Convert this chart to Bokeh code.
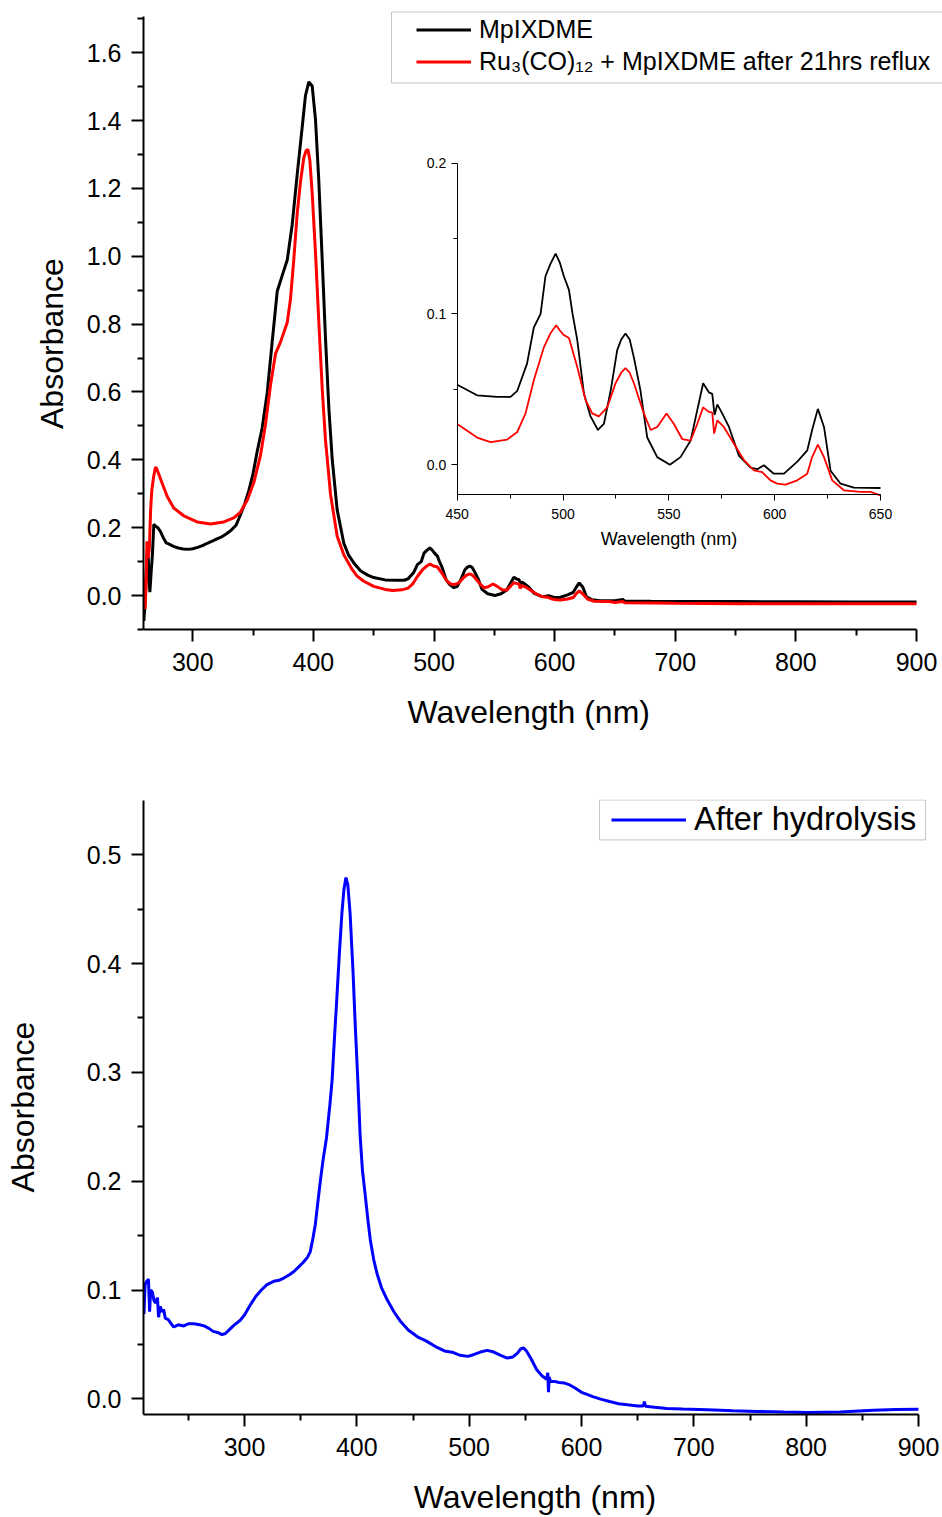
import numpy as np
from bokeh.plotting import figure
from bokeh.models import (Range1d, LinearAxis, FixedTicker, PrintfTickFormatter, Title,
                          Legend, LegendItem, BoxAnnotation, ColumnDataSource)
from bokeh.embed import file_html
from bokeh.resources import INLINE

FONT = "Liberation Sans"

# ---------------- data ----------------
mp_wl = [259.4, 260.5, 261.6, 262.7, 263.5, 264.4, 265.5, 266.5, 267.7, 269, 271, 273, 276, 278, 280,
         284, 288, 292, 296, 300, 304, 308, 312, 316, 320, 324, 328, 332, 336, 339.5, 343, 346.5, 350,
         353.4, 357.5, 361.7, 365.8, 370, 374.1, 378.3, 382.4, 386.6, 390.7, 393.4, 396.2, 399, 401.7,
         404.5, 407.3, 410, 412.8, 415.6, 419.7, 425.2, 429, 433.5, 439, 445,
         450, 459.4, 468.9, 475.2, 478.4, 483, 486.2, 489.4, 491.7, 494, 496.5, 498.5, 500.4, 502.8,
         504.5, 506.7, 509.9, 513, 516.5, 519.3, 522.5, 525.6, 527.5, 529.5, 531.5, 533.5, 536.6, 539.8,
         544.5, 550.5, 555.5, 560.3, 563.4, 566.2, 568.9, 570.5, 571.6, 572.9, 575.2, 578.4, 583.1,
         588.6, 591.8, 594.9, 599.6, 604.4, 610.7, 615.4, 617.7, 620.4, 623.3, 626.4, 631.1, 637.4,
         650, 656.5, 658, 680, 700, 750, 800, 850, 900]
mp_abs = [-0.075, -0.02, 0.09, 0.155, 0.06, 0.01, 0.07, 0.12, 0.21, 0.205, 0.2, 0.19, 0.167, 0.155, 0.152,
          0.145, 0.14, 0.137, 0.136, 0.138, 0.142, 0.147, 0.154, 0.16, 0.167, 0.173, 0.182, 0.193, 0.208,
          0.238, 0.27, 0.31, 0.36, 0.425, 0.494, 0.598, 0.747, 0.897, 0.943, 0.989, 1.093, 1.243, 1.381,
          1.474, 1.514, 1.502, 1.404, 1.22, 0.989, 0.759, 0.552, 0.401, 0.252, 0.154, 0.12, 0.096, 0.073,
          0.06,
          0.053, 0.046, 0.045, 0.045, 0.049, 0.067, 0.091, 0.100, 0.125, 0.133, 0.140, 0.134, 0.125,
          0.116, 0.1, 0.083, 0.047, 0.032, 0.023, 0.027, 0.049, 0.076, 0.083, 0.087, 0.083, 0.071, 0.049,
          0.018, 0.005, 0.0, 0.005, 0.016, 0.036, 0.054, 0.048, 0.047, 0.033, 0.040, 0.034, 0.025, 0.006,
          -0.002, -0.003, -0.0004, -0.006, -0.006, 0.002, 0.0095, 0.023, 0.037, 0.025, -0.004, -0.0126,
          -0.0153, -0.0155, -0.012, -0.016, -0.017, -0.0175, -0.018, -0.0185, -0.019, -0.019]

ru_wl = [259.4, 260.3, 261.2, 262, 263, 264, 265, 266, 267.5, 269.1, 270.5, 273.2, 278.8, 284.2, 292.5,
         303.6, 314.7, 325.7, 334, 339.5, 345.1, 350.6, 356.1, 360.3, 364.4, 368.6, 372.7, 378.3, 381,
         383.7, 386.6, 389.3, 392, 394, 395.5, 397, 399, 401.7, 404.5, 407.3, 410, 414.2, 419.7, 425.2,
         432.1, 436, 441.8,
         450, 459.4, 465.8, 473.6, 478.4, 482.3, 486.2, 491, 494, 496.8, 498.5, 500.4, 502.8, 506.7,
         510.6, 513.8, 516.9, 520.9, 524.8, 527.5, 529.5, 531.5, 533.5, 538.2, 541.4, 544.5, 548.9,
         552.4, 556.3, 560.3, 563.4, 566.2, 568.9, 570.5, 571.4, 572.9, 576, 580.7, 585.5, 590.2, 594.1,
         598, 601.2, 605.1, 610.7, 615.4, 617.7, 620.4, 623.3, 627.2, 632.7, 640.6, 645.3, 650,
         656.5, 658, 680, 700, 750, 800, 850, 900]
ru_abs = [0.05, -0.04, 0.02, 0.16, 0.11, 0.14, 0.25, 0.31, 0.35, 0.379, 0.37, 0.344, 0.292, 0.258, 0.235,
          0.217, 0.211, 0.217, 0.229, 0.246, 0.281, 0.333, 0.413, 0.505, 0.62, 0.713, 0.747, 0.805, 0.874,
          0.989, 1.128, 1.22, 1.29, 1.312, 1.315, 1.285, 1.185, 1.012, 0.805, 0.609, 0.459, 0.298, 0.175,
          0.12, 0.077, 0.058, 0.042,
          0.027, 0.018, 0.015, 0.0166, 0.0217, 0.034, 0.056, 0.078, 0.087, 0.0925, 0.089, 0.086, 0.084,
          0.065, 0.043, 0.034, 0.032, 0.038, 0.054, 0.061, 0.064, 0.061, 0.054, 0.034, 0.023, 0.025,
          0.034, 0.027, 0.017, 0.016, 0.027, 0.038, 0.035, 0.0345, 0.0206, 0.0294, 0.025, 0.014, 0.003,
          -0.0038, -0.0049, -0.0104, -0.0126, -0.0133, -0.0104, -0.006, 0.005, 0.0133, 0.005, -0.0104,
          -0.017, -0.018, -0.018, -0.0204, -0.018, -0.0215, -0.022, -0.023, -0.024, -0.024, -0.024,
          -0.0245]

hy_wl = [210.5, 211.5, 213, 214.5, 215.5, 216.5, 218, 219.5, 221, 222.5, 223.5, 225, 226.5, 228, 229.5,
         232, 234, 237, 241, 246, 250, 255, 260, 264, 268, 272, 276, 280, 283, 287, 291, 296, 300, 305,
         310, 315, 320, 326, 331, 335, 340, 344, 348, 352, 356, 358.5, 361, 363, 365, 367.5, 370, 373,
         376, 378, 380, 382.3, 384.5, 386.7, 388.5, 390.3, 392, 394, 396.5, 398.6, 401, 403, 405, 407.5,
         410, 412, 415, 418, 422, 427, 433, 439, 446, 454, 462, 470, 478, 486, 492, 499, 505, 510, 516,
         522, 528, 534, 539, 543, 546, 548.5, 551, 555, 560, 565, 569, 570, 570.6, 571.2, 572.5, 576,
         580, 585, 590, 595, 600, 605, 610, 617, 625, 633, 641, 650, 655, 656, 657, 665, 676, 690, 712,
         735, 756, 780, 801, 830, 860, 880, 900]
hy_abs = [0.078, 0.105, 0.108, 0.11, 0.08, 0.1, 0.098, 0.09, 0.088, 0.093, 0.075, 0.085, 0.08, 0.082,
          0.074, 0.073, 0.07, 0.066, 0.068, 0.067, 0.069, 0.069, 0.068, 0.067, 0.065, 0.062, 0.061, 0.059,
          0.06, 0.064, 0.068, 0.072, 0.077, 0.086, 0.094, 0.1, 0.105, 0.108, 0.109, 0.111, 0.114, 0.117,
          0.121, 0.125, 0.13, 0.135, 0.148, 0.16, 0.178, 0.2, 0.22, 0.24, 0.27, 0.293, 0.33, 0.37, 0.41,
          0.446, 0.468, 0.479, 0.472, 0.446, 0.395, 0.343, 0.29, 0.241, 0.21, 0.187, 0.163, 0.146, 0.128,
          0.115, 0.102, 0.091, 0.08, 0.071, 0.063, 0.057, 0.053, 0.048, 0.044, 0.0425, 0.04, 0.039, 0.041,
          0.043, 0.0445, 0.043, 0.04, 0.0375, 0.0385, 0.042, 0.046, 0.0467, 0.044, 0.037, 0.027, 0.021,
          0.018, 0.024, 0.006, 0.02, 0.016, 0.016, 0.015, 0.0145, 0.0125, 0.0095, 0.006, 0.004, 0.002,
          -0.0003, -0.0025, -0.0045, -0.0055, -0.0065, -0.0066, -0.0025, -0.0068, -0.0078, -0.0089,
          -0.0094, -0.0101, -0.011, -0.0116, -0.0122, -0.0126, -0.012, -0.0104, -0.0099, -0.0095]

top_x_major = [300, 400, 500, 600, 700, 800, 900]
top_x_minor = [350, 450, 550, 650, 750, 850]
top_y_major = [0.0, 0.2, 0.4, 0.6, 0.8, 1.0, 1.2, 1.4, 1.6]
top_y_minor = [-0.1, 0.1, 0.3, 0.5, 0.7, 0.9, 1.1, 1.3, 1.5, 1.7]
in_x_major = [450, 500, 550, 600, 650]
in_x_minor = [475, 525, 575, 625]
in_y_major = [0.0, 0.1, 0.2]
in_y_minor = [0.05, 0.15]
bot_x_major = [300, 400, 500, 600, 700, 800, 900]
bot_x_minor = [250, 350, 450, 550, 650, 750, 850]
bot_y_major = [0.0, 0.1, 0.2, 0.3, 0.4, 0.5]
bot_y_minor = [0.05, 0.15, 0.25, 0.35, 0.45]

label_mp = "MpIXDME"
label_ru = "Ru\u2083(CO)\u2081\u2082 + MpIXDME after 21hrs reflux"
label_hy = "After hydrolysis"
x_title = "Wavelength (nm)"
y_title = "Absorbance"

# ---------------- layout (page pixels; canvas starts at page 0,0) ----------------
W = 942
H1 = 765
H2 = 1517 - H1
T_L, T_R, T_T, T_B = 143, 942, 0, 629          # top frame
B_L, B_R, B_T, B_B = 143, 926, 799, 1415       # bottom frame


def span_range(v0, p0, v1, p1, f0, f1):
    """value range for a frame from pixel f0 to f1, given v0 at pixel p0 and v1 at p1"""
    k = (v1 - v0) / (p1 - p0)
    return v0 + (f0 - p0) * k, v0 + (f1 - p0) * k


def style_axis(ax, tick_size, label_size, major_out, minor_out, lw, lab_off, title_off):
    ax.axis_line_width = lw
    ax.axis_line_color = "black"
    ax.major_tick_line_width = lw
    ax.minor_tick_line_width = lw
    ax.major_tick_line_color = "black"
    ax.minor_tick_line_color = "black"
    ax.major_tick_out = major_out
    ax.major_tick_in = 0
    ax.minor_tick_out = minor_out
    ax.minor_tick_in = 0
    ax.major_label_text_font = FONT
    ax.major_label_text_font_size = tick_size
    ax.major_label_text_color = "black"
    ax.major_label_standoff = lab_off
    ax.axis_label_text_font = FONT
    ax.axis_label_text_font_size = label_size
    ax.axis_label_text_font_style = "normal"
    ax.axis_label_text_color = "black"
    ax.axis_label_standoff = title_off


def side_title(text, offset, valign, standoff):
    return Title(text=text, align="left", offset=offset, vertical_align=valign, standoff=standoff,
                 text_font=FONT, text_font_size="32px", text_font_style="normal", text_color="black")


# ---------------- top figure ----------------
tx0, tx1 = span_range(300, 192.3, 900, 916, T_L, T_R)
ty0, ty1 = span_range(0.0, 595, 1.6, 52.3, T_B, T_T)
p1 = figure(width=W, height=H1, x_range=Range1d(tx0, tx1), y_range=Range1d(ty0, ty1),
            output_backend="svg", toolbar_location=None,
            min_border_left=T_L, min_border_right=W - T_R,
            min_border_top=T_T, min_border_bottom=H1 - T_B)
p1.title.visible = False
p1.outline_line_color = None
p1.xgrid.visible = False
p1.ygrid.visible = False

ax = p1.xaxis[0]
ax.ticker = FixedTicker(ticks=top_x_major, minor_ticks=top_x_minor)
ax.bounds = (tx0, 900)
style_axis(ax, "25px", "32px", 12, 6, 2, 11, 20)
ay = p1.yaxis[0]
ay.ticker = FixedTicker(ticks=top_y_major, minor_ticks=top_y_minor)
ay.formatter = PrintfTickFormatter(format="%.1f")
ay.bounds = (ty0, 1.707)
style_axis(ay, "25px", "32px", 12, 6, 2, 10, 14)

# axis titles placed along the axis lines (the frame is wider, to hold the legend)
p1.add_layout(side_title(x_title, 407 - T_L, "top", 40), "below")
p1.add_layout(side_title(y_title, T_B - 428.5, "bottom", 28), "left")

src_mp = ColumnDataSource(dict(x=mp_wl, y=mp_abs))
src_ru = ColumnDataSource(dict(x=ru_wl, y=ru_abs))
r_mp = p1.line("x", "y", source=src_mp, line_color="black", line_width=3)
r_ru = p1.line("x", "y", source=src_ru, line_color="red", line_width=3)

# inset coordinates (450 nm at x=456.7, 650 nm at x=880; 0.2 at y=162.7, -0.02 at y=494.3)
ix0, ix1 = span_range(450, 456.7, 650, 880, T_L, T_R)
iy0, iy1 = span_range(-0.02, 494.3, 0.2, 162.7, T_B, T_T)
p1.extra_x_ranges = {"ix": Range1d(ix0, ix1), "pg": Range1d(T_L, T_R)}
p1.extra_y_ranges = {"iy": Range1d(iy0, iy1), "pg": Range1d(T_B, T_T)}

mp_w = np.array(mp_wl); mp_a = np.array(mp_abs)
ru_w = np.array(ru_wl); ru_a = np.array(ru_abs)
m1 = (mp_w >= 450) & (mp_w <= 650)
m2 = (ru_w >= 450) & (ru_w <= 650)
p1.line(mp_w[m1], mp_a[m1], line_color="black", line_width=1.8, x_range_name="ix", y_range_name="iy")
p1.line(ru_w[m2], ru_a[m2], line_color="red", line_width=1.8, x_range_name="ix", y_range_name="iy")

iax = LinearAxis(x_range_name="ix", y_range_name="iy", fixed_location=-0.02, bounds=(450, 650),
                 ticker=FixedTicker(ticks=in_x_major, minor_ticks=in_x_minor),
                 axis_label=x_title)
style_axis(iax, "14px", "18px", 6, 4, 1, 8, 7)
p1.add_layout(iax, "below")
iay = LinearAxis(x_range_name="ix", y_range_name="iy", fixed_location=450, bounds=(-0.02, 0.2),
                 ticker=FixedTicker(ticks=in_y_major, minor_ticks=in_y_minor),
                 formatter=PrintfTickFormatter(format="%.1f"))
style_axis(iay, "14px", "18px", 6, 4, 1, 5, 6)
p1.add_layout(iay, "left")

# legend
p1.add_layout(BoxAnnotation(left=391, right=990, top=11.5, bottom=82.5, x_range_name="pg", y_range_name="pg",
                            fill_color=None, fill_alpha=0, line_color="#404040", line_width=1))
leg1 = Legend(items=[LegendItem(label=label_mp, renderers=[r_mp]),
                     LegendItem(label=label_ru, renderers=[r_ru])],
              location=(416 - T_L, T_B - 75.5), border_line_color=None, background_fill_alpha=0,
              padding=0, margin=0, spacing=3, glyph_width=55, glyph_height=29, label_height=29,
              label_standoff=8, label_text_font=FONT, label_text_font_size="25px",
              label_text_color="black")
p1.add_layout(leg1)

# ---------------- bottom figure ----------------
bx0, bx1 = span_range(300, 244, 900, 918, B_L, B_R)
by0, by1 = span_range(0.0, 1399.3, 0.5, 854.3, B_B, B_T)
p2 = figure(width=W, height=H2, x_range=Range1d(bx0, bx1), y_range=Range1d(by0, by1),
            output_backend="svg", toolbar_location=None,
            min_border_left=B_L, min_border_right=W - B_R,
            min_border_top=B_T - H1, min_border_bottom=(H1 + H2) - B_B)
p2.title.visible = False
p2.outline_line_color = None
p2.xgrid.visible = False
p2.ygrid.visible = False

bx = p2.xaxis[0]
bx.ticker = FixedTicker(ticks=bot_x_major, minor_ticks=bot_x_minor)
bx.bounds = (bx0, 900)
bx.axis_label = x_title
style_axis(bx, "25px", "32px", 12, 6, 2, 11, 20)
by = p2.yaxis[0]
by.ticker = FixedTicker(ticks=bot_y_major, minor_ticks=bot_y_minor)
by.formatter = PrintfTickFormatter(format="%.1f")
_, by_top = span_range(0.0, 1399.3, 0.5, 854.3, B_B, 800)
by.bounds = (by0, by_top)
by.axis_label = y_title
style_axis(by, "25px", "32px", 12, 6, 2, 10, 43)

src_hy = ColumnDataSource(dict(x=hy_wl, y=hy_abs))
r_hy = p2.line("x", "y", source=src_hy, line_color="blue", line_width=3)

p2.extra_x_ranges = {"pg": Range1d(B_L, B_R)}
p2.extra_y_ranges = {"pg": Range1d(B_B, B_T)}
p2.add_layout(BoxAnnotation(left=599, right=925, top=799.5, bottom=839.5, x_range_name="pg", y_range_name="pg",
                            fill_color=None, fill_alpha=0, line_color="#404040", line_width=1))
leg2 = Legend(items=[LegendItem(label=label_hy, renderers=[r_hy])],
              location=(611 - B_L, B_B - 838.5), border_line_color=None, background_fill_alpha=0,
              padding=0, margin=0, spacing=0, glyph_width=75, glyph_height=37, label_height=37,
              label_standoff=8, label_text_font=FONT, label_text_font_size="32.5px",
              label_text_color="black")
p2.add_layout(leg2)

# two separate roots, stacked on the page (keeps each frame independent)
open("out.html", "w").write(file_html([p1, p2], INLINE))
